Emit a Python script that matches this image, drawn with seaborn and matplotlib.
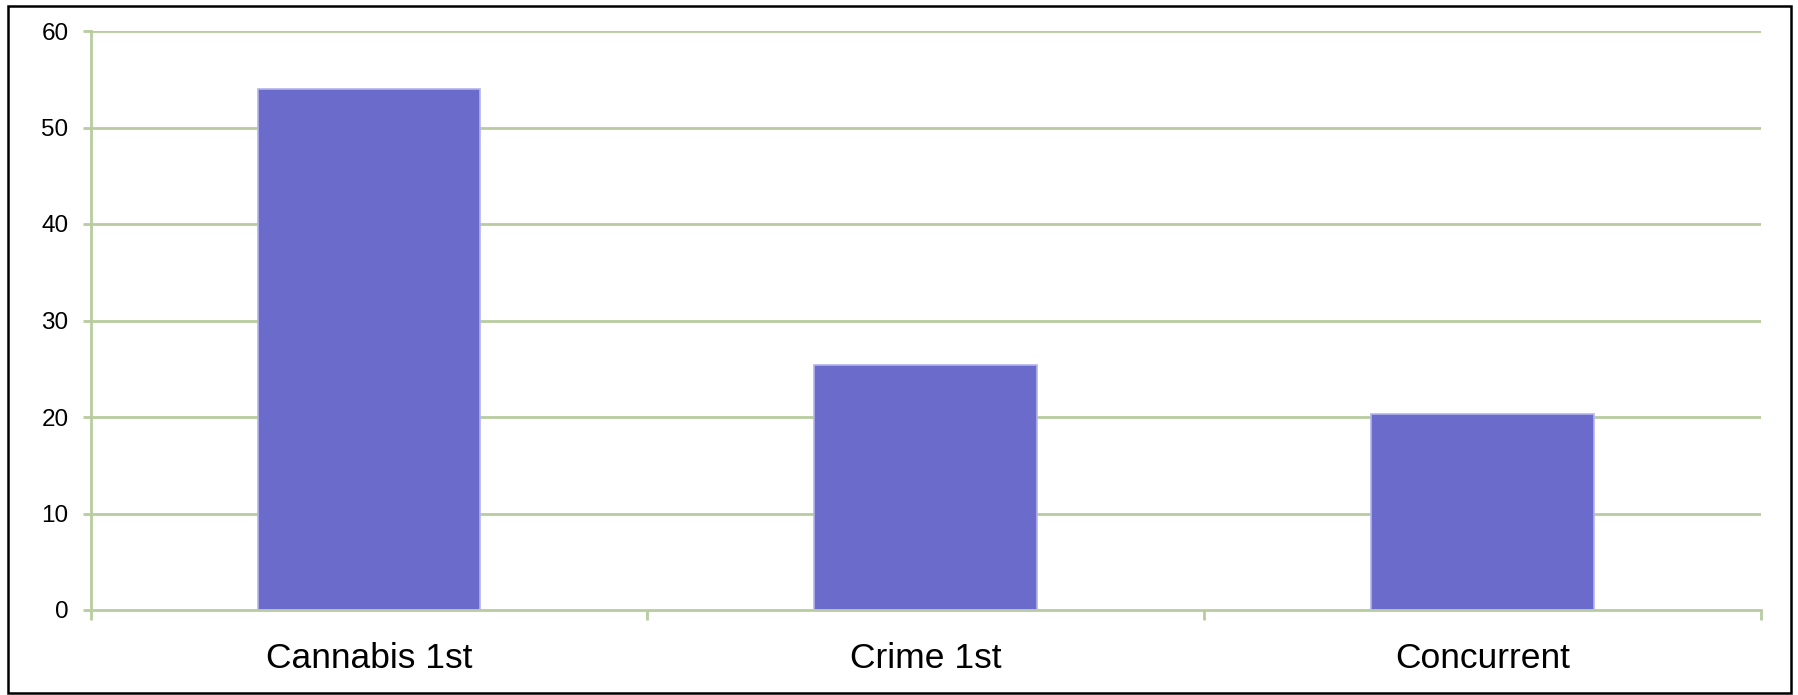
import matplotlib
matplotlib.use("Agg")
import matplotlib.pyplot as plt
import seaborn as sns
import pandas as pd
from matplotlib.patches import Rectangle

categories = ["Cannabis 1st", "Crime 1st", "Concurrent"]
values = [54.0, 25.4, 20.3]
y_ticks = [0, 10, 20, 30, 40, 50, 60]

sns.set_style("white")
plt.rcParams['font.family'] = ['Liberation Sans', 'DejaVu Sans']

grid_color = "#b8cc9f"
bar_color = "#6b6bcc"

fig = plt.figure(figsize=(17.99, 6.95), dpi=100)
ax = fig.add_axes([90.6/1799, 1-610/695, (1761-90.6)/1799, (610-31)/695])

df = pd.DataFrame({"category": categories, "value": values})
sns.barplot(data=df, x="category", y="value", ax=ax, color=bar_color,
            width=0.4, saturation=1, edgecolor="#b4b4ec", linewidth=1.2, zorder=3)

ax.set_xlim(-0.5, 2.5)
ax.set_ylim(0, 60)
ax.set_yticks(y_ticks)
ax.set_yticklabels([str(t) for t in y_ticks], fontsize=17.5)
ax.set_xlabel("")
ax.set_ylabel("")
for t in y_ticks[1:]:
    ax.axhline(t, color=grid_color, lw=2, zorder=1)

for s in ["top", "right"]:
    ax.spines[s].set_visible(False)
for s in ["left", "bottom"]:
    ax.spines[s].set_color(grid_color)
    ax.spines[s].set_linewidth(2)
    ax.spines[s].set_zorder(4)

ax.tick_params(axis="y", which="major", left=True, length=6, width=2, color=grid_color, pad=10, labelcolor="black")
ax.set_xticks([-0.5, 0.5, 1.5, 2.5], minor=True)
ax.tick_params(axis="x", which="minor", bottom=True, length=7, width=2, color=grid_color)
ax.tick_params(axis="x", which="major", bottom=False, length=0, pad=23, labelsize=25.5, labelcolor="black")

fig.patches.append(Rectangle((8/1799, 2/695), 1783/1799, 687/695, transform=fig.transFigure,
                             fill=False, edgecolor="black", linewidth=1.8))

fig.savefig("out.png", dpi=100)
